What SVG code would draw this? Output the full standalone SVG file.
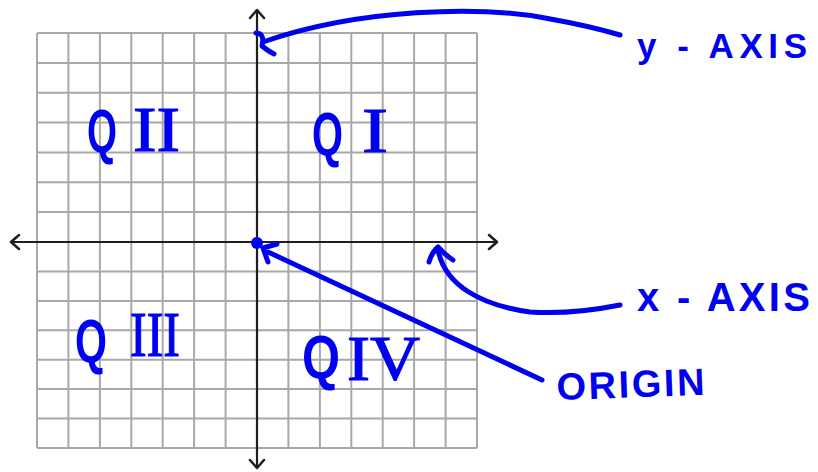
<svg xmlns="http://www.w3.org/2000/svg" width="818" height="472" viewBox="0 0 818 472">
<style>
.grid{stroke:#a8a8a8;stroke-width:2;fill:none}
.axis{stroke:#1e1e1e;stroke-width:2.2;fill:none}
.ah{stroke:#1e1e1e;stroke-width:2.5;fill:none;stroke-linecap:round;stroke-linejoin:round}
.ink{stroke:#0000f0;stroke-width:5;fill:none;stroke-linecap:round;stroke-linejoin:round}
.q{font-family:"Liberation Sans",Arial,sans-serif;font-size:62px;font-weight:bold;fill:#0000f0}
.rn{font-family:"Liberation Serif","Times New Roman",serif;font-size:64px;font-weight:normal;stroke:#0000f0;stroke-width:1.2}
.lbl{font-family:"Liberation Sans",Arial,sans-serif;font-weight:bold;fill:#0000f0}
</style>
<rect width="818" height="472" fill="#fff"/>
<g id="grid">
<path class="grid" d="M37 33V448M68.4 33V448M99.9 33V448M131.3 33V448M162.7 33V448M194.1 33V448M225.6 33V448M288.4 33V448M319.9 33V448M351.3 33V448M382.7 33V448M414.1 33V448M445.6 33V448M477 33V448M37 33H477M37 62.9H477M37 92.7H477M37 122.6H477M37 152.4H477M37 182.3H477M37 212.1H477M37 271.4H477M37 300.9H477M37 330.3H477M37 359.7H477M37 389.1H477M37 418.6H477M37 448H477"/>
</g>
<g id="axes">
<path class="axis" d="M257 10V468M11 242H497"/>
<path class="ah" d="M250 18L257 10L264 18M250 460L257 468L264 460M19 235L11 242L19 249M489 235L497 242L489 249"/>
</g>
<g id="origin-dot"><circle cx="257" cy="243" r="6" fill="#0000f0"/></g>
<g id="connectors">
<path class="ink" d="M620 35Q590 26 545 18C480 6 360 8 263 42"/>
<path class="ink" d="M256 33Q265 33 262 46Q268 51 274 54"/>
<path class="ink" d="M620 305C585 312 560 314 530 312C480 305 445 285 438 250"/>
<path class="ink" d="M429 262Q432 252 438 247Q445 255 453 260"/>
<path class="ink" d="M542 380L268 252"/>
<path class="ink" d="M268 262L263 248L277 244"/>
</g>
<g id="q2"><text class="q" y="152"><tspan x="87" textLength="30" lengthAdjust="spacingAndGlyphs">Q</tspan><tspan class="rn" x="133" y="151" textLength="47" lengthAdjust="spacingAndGlyphs">II</tspan></text></g>
<g id="q1"><text class="q" y="155"><tspan x="312" textLength="31" lengthAdjust="spacingAndGlyphs">Q</tspan><tspan class="rn" x="362" y="152" textLength="26" lengthAdjust="spacingAndGlyphs">I</tspan></text></g>
<g id="q3"><text class="q" y="362"><tspan x="75" textLength="32" lengthAdjust="spacingAndGlyphs">Q</tspan><tspan class="rn" x="130" y="356" textLength="50" lengthAdjust="spacingAndGlyphs">III</tspan></text></g>
<g id="q4"><text class="q" y="378"><tspan x="302" textLength="38" lengthAdjust="spacingAndGlyphs">Q</tspan><tspan class="rn" x="347" y="380" textLength="73" lengthAdjust="spacingAndGlyphs">IV</tspan></text></g>
<g id="y-axis-label"><text class="lbl" x="637" y="58" font-size="35" textLength="170" lengthAdjust="spacing">y - AXIS</text></g>
<g id="x-axis-label"><text class="lbl" x="637" y="311" font-size="40" textLength="173" lengthAdjust="spacing">x - AXIS</text></g>
<g id="origin-label"><text class="lbl" x="557" y="400" font-size="38" textLength="148" lengthAdjust="spacing" transform="rotate(-2 557 400)">ORIGIN</text></g>
</svg>
